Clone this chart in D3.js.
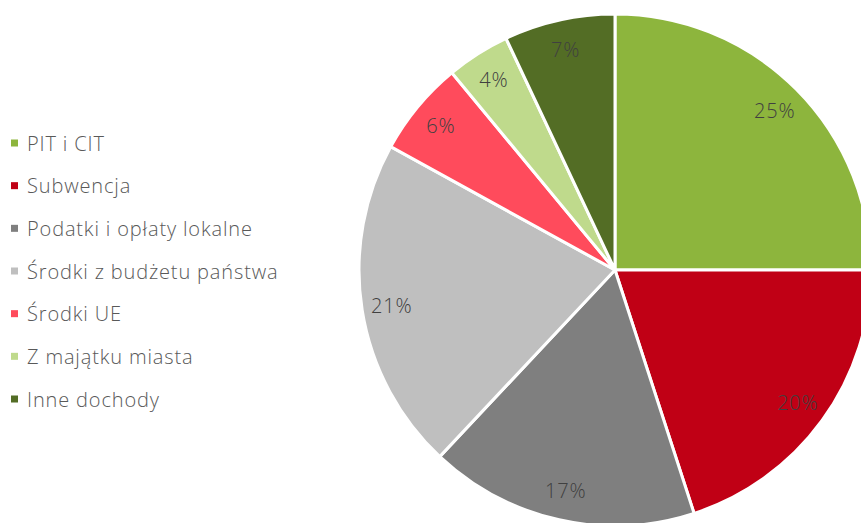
<!DOCTYPE html>
<html><head><meta charset="utf-8">
<script src="https://cdn.jsdelivr.net/npm/d3@7"></script>
<style>html,body{margin:0;padding:0;background:#fff;overflow:hidden}</style>
</head><body>
<svg id="chart" width="861" height="523"></svg>
<script>
const categories = ["PIT i CIT","Subwencja","Podatki i opłaty lokalne","Środki z budżetu państwa","Środki UE","Z majątku miasta","Inne dochody"];
const values = [25, 20, 17, 21, 6, 4, 7];
const labels = ["25%","20%","17%","21%","6%","4%","7%"];
const colors = ["#8DB53D","#C00015","#7F7F7F","#BFBFBF","#FF4B5C","#BFDA8C","#536D25"];

const svg = d3.select("#chart");
const cx = 615, cy = 270, R = 256, rLab = 226;
const font = "'Open Sans', Roboto, sans-serif";

const pie = d3.pie().value(d => d).sort(null);
const arcs = pie(values);
const arc = d3.arc().innerRadius(0).outerRadius(R);
const labArc = d3.arc().innerRadius(rLab).outerRadius(rLab);

const g = svg.append("g").attr("transform", `translate(${cx},${cy})`);
g.selectAll("path").data(arcs).join("path")
  .attr("d", arc).attr("fill", (d,i) => colors[i])
  .attr("stroke", "#fff").attr("stroke-width", 3).attr("stroke-linejoin","miter");

g.selectAll("text").data(arcs).join("text")
  .attr("transform", d => `translate(${labArc.centroid(d)})`)
  .attr("text-anchor", "middle").attr("dominant-baseline", "central")
  .attr("font-family", font).attr("font-size", 20).attr("font-weight", 300)
  .attr("letter-spacing", 0.8)
  .attr("fill", "#404040").text((d,i) => labels[i]);

const y = d3.scalePoint().domain(categories).range([143, 399]);
const leg = svg.append("g");
const items = leg.selectAll("g").data(categories).join("g")
  .attr("transform", d => `translate(0,${y(d)})`);
items.append("rect").attr("x", 11).attr("y", -3.5).attr("width", 7).attr("height", 7)
  .attr("fill", (d,i) => colors[i]);
items.append("text").attr("x", 27).attr("y", 0).attr("dominant-baseline", "central")
  .attr("font-family", font).attr("font-size", 20).attr("font-weight", 300)
  .attr("letter-spacing", 0.85)
  .attr("fill", "#595959").text(d => d);
</script>
</body></html>
